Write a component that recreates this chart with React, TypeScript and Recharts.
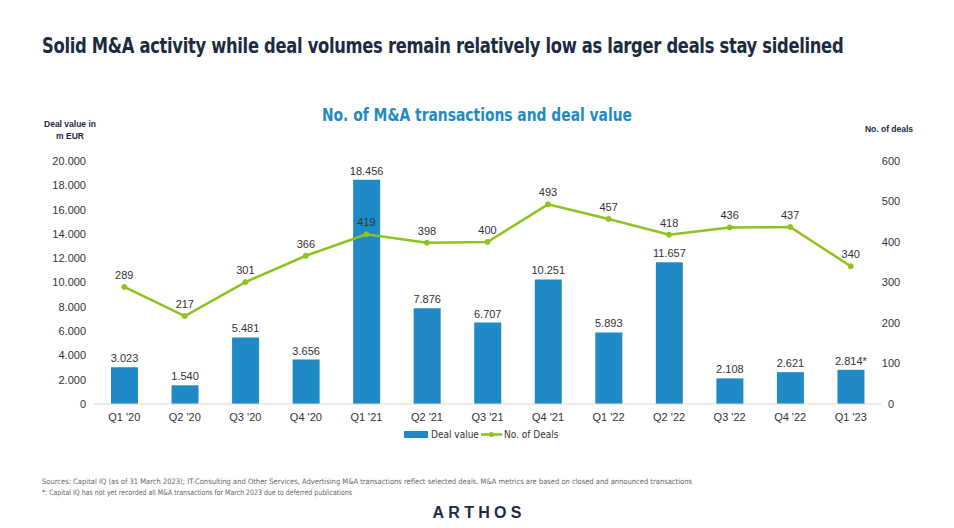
import React from "react";
import {
  ComposedChart, Bar, Line, XAxis, YAxis, LabelList,
} from "recharts";

// quarters and values
const quarters = ["Q1 '20", "Q2 '20", "Q3 '20", "Q4 '20", "Q1 '21", "Q2 '21", "Q3 '21", "Q4 '21", "Q1 '22", "Q2 '22", "Q3 '22", "Q4 '22", "Q1 '23"];
const dealValue = [3023, 1540, 5481, 3656, 18456, 7876, 6707, 10251, 5893, 11657, 2108, 2621, 2814];
const dealCount = [289, 217, 301, 366, 419, 398, 400, 493, 457, 418, 436, 437, 340];
const valueNotes = ["", "", "", "", "", "", "", "", "", "", "", "", "*"];
const leftTicks = [0, 2000, 4000, 6000, 8000, 10000, 12000, 14000, 16000, 18000, 20000];
const rightTicks = [0, 100, 200, 300, 400, 500, 600];

const BLUE = "#1F8AC6";
const GREEN = "#8DC21F";
const NAVY = "#1C2B40";
const TEXT = "#333333";
const FONT = "'Liberation Sans', Arial, sans-serif";
const NARROW = "'Liberation Sans Narrow', 'DejaVu Sans Condensed', sans-serif";

const fmt = (n: number) => String(n).replace(/\B(?=(\d{3})+(?!\d))/g, ".");

const data = quarters.map((q, i) => ({
  q,
  value: dealValue[i],
  deals: dealCount[i],
  valueLabel: fmt(dealValue[i]) + valueNotes[i],
}));

const RightTick = (props: any) => {
  const { x, y, payload } = props;
  return (
    <text x={x} y={y} dy="0.355em" textAnchor="middle" fill={TEXT} fontSize={11} fontFamily={FONT}>
      {payload.value}
    </text>
  );
};

export default function App() {
  return (
    <div style={{ position: "absolute", left: 0, top: 0, width: 954, height: 528, background: "#fff", overflow: "hidden" }}>
      <div style={{ position: "absolute", left: 42, top: 33, whiteSpace: "nowrap", fontFamily: NARROW, fontWeight: 700,
        fontSize: 21, letterSpacing: -0.35, color: NAVY, lineHeight: "26px",
        transform: "scaleX(0.865)", transformOrigin: "0 0" }}>
        Solid M&amp;A activity while deal volumes remain relatively low as larger deals stay sidelined
      </div>
      <svg width={954} height={528} style={{ position: "absolute", left: 0, top: 0 }}>
        <text x={477} y={121} textAnchor="middle" fontFamily={NARROW} fontWeight={700} fontSize={18} fill={BLUE}
          textLength={310} lengthAdjust="spacingAndGlyphs">
          No. of M&amp;A transactions and deal value
        </text>
        <text x={70} y={127} textAnchor="middle" fontFamily={FONT} fontWeight={700} fontSize={8.5} fill={NAVY}>Deal value in</text>
        <text x={70} y={139} textAnchor="middle" fontFamily={FONT} fontWeight={700} fontSize={8.5} fill={NAVY}>m EUR</text>
        <text x={889} y={132} textAnchor="middle" fontFamily={FONT} fontWeight={700} fontSize={8.5} fill={NAVY}>No. of deals</text>

        {/* legend */}
        <rect x={404} y={431} width={24} height={7} fill={BLUE} />
        <text x={431} y={438} fontFamily={NARROW} fontSize={10} fill={TEXT}>Deal value</text>
        <line x1={481} y1={434.5} x2={502} y2={434.5} stroke={GREEN} strokeWidth={2.5} />
        <circle cx={491.5} cy={434.5} r={2.5} fill={GREEN} />
        <text x={504} y={438} fontFamily={NARROW} fontSize={10} fill={TEXT}>No. of Deals</text>

        <text x={42} y={484} fontFamily={NARROW} fontSize={7.5} fill="#666" textLength={650} lengthAdjust="spacingAndGlyphs">
          Sources: Capital IQ (as of 31 March 2023); IT-Consulting and Other Services, Advertising M&amp;A transactions reflect selected deals. M&amp;A metrics are based on closed and announced transactions
        </text>
        <text x={42} y={495} fontFamily={NARROW} fontSize={7.5} fill="#666" textLength={310} lengthAdjust="spacingAndGlyphs">
          *:  Capital IQ has not yet recorded all M&amp;A transactions for March 2023 due to deferred publications
        </text>
        <text x={477} y={518} textAnchor="middle" fontFamily={FONT} fontWeight={700} fontSize={16} fill={NAVY}
          textLength={89} lengthAdjust="spacing">
          ARTHOS
        </text>
      </svg>

      <div style={{ position: "absolute", left: 0, top: 0 }}>
        <ComposedChart width={954} height={528} data={data} margin={{ top: 161, right: 0, bottom: 94, left: 0 }}>
          <XAxis dataKey="q" axisLine={{ stroke: "#D9D9D9" }} tickLine={false} tickSize={0} tickMargin={9} height={30}
            tick={{ fill: TEXT, fontSize: 11, fontFamily: FONT }} interval={0} />
          <YAxis yAxisId="left" orientation="left" width={94} domain={[0, 20000]} ticks={leftTicks}
            tickFormatter={fmt} axisLine={false} tickLine={false} tickSize={0} tickMargin={8}
            tick={{ fill: TEXT, fontSize: 11, fontFamily: FONT }} />
          <YAxis yAxisId="right" orientation="right" width={73} domain={[0, 600]} ticks={rightTicks}
            axisLine={false} tickLine={false} tickSize={0} tickMargin={10} tick={<RightTick />} />
          <Bar yAxisId="left" dataKey="value" fill={BLUE} barSize={27} isAnimationActive={false}>
            <LabelList dataKey="valueLabel" position="top" offset={5} fill={TEXT} fontSize={11} fontFamily={FONT} />
          </Bar>
          <Line yAxisId="right" dataKey="deals" stroke={GREEN} strokeWidth={2.5} type="linear"
            dot={{ r: 2.5, fill: GREEN, stroke: GREEN, strokeWidth: 1 }} activeDot={false} isAnimationActive={false}>
            <LabelList dataKey="deals" position="top" offset={8} fill={TEXT} fontSize={11} fontFamily={FONT} />
          </Line>
        </ComposedChart>
      </div>
    </div>
  );
}
